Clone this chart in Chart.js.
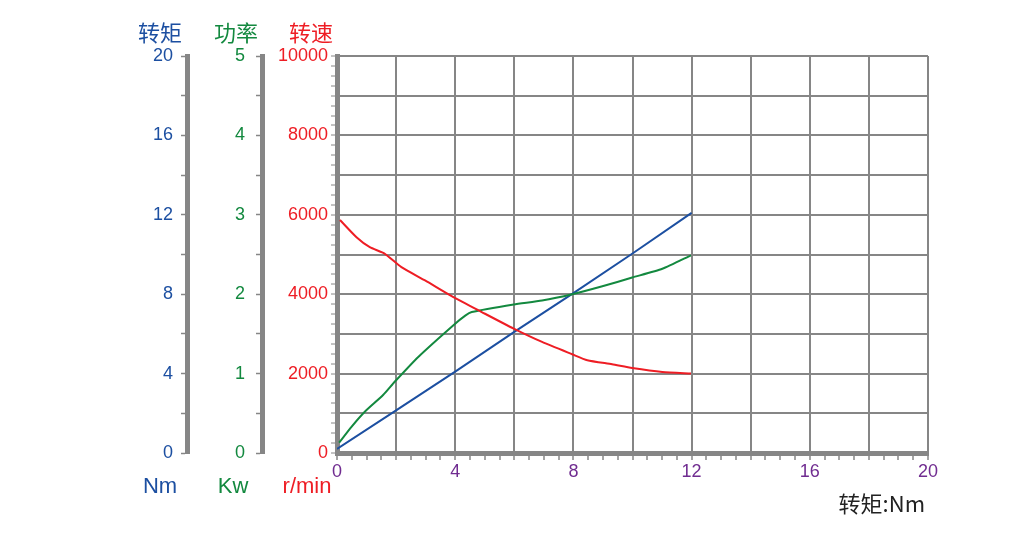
<!DOCTYPE html>
<html><head><meta charset="utf-8">
<script src="https://cdn.jsdelivr.net/npm/chart.js@4.4.1/dist/chart.umd.min.js"></script>
<style>html,body{margin:0;padding:0;background:#fff;}#wrap{width:1030px;height:533px;}</style>
</head><body><div id="wrap"><canvas id="c" width="1030" height="533"></canvas></div>
<script>
// ---- data ----
const speedX   = [0.1, 0.66, 1.11, 1.62, 2.18, 2.98, 3.94, 4.9, 5.98, 6.94, 7.96, 8.47, 9.31, 9.99, 11.01, 11.98];
const speedRpm = [5870, 5435, 5183, 5018, 4681, 4347, 3927, 3550, 3133, 2797, 2487, 2337, 2236, 2143, 2043, 2003];
const powerX   = [0.07, 0.49, 0.94, 1.56, 1.96, 2.75, 3.94, 4.34, 4.56, 5.98, 6.94, 7.96, 8.98, 9.99, 11.01, 11.98];
const powerKw  = [0.13, 0.33, 0.52, 0.73, 0.90, 1.21, 1.61, 1.73, 1.775, 1.87, 1.92, 2.00, 2.10, 2.21, 2.32, 2.49];
const torqueX  = [0, 2, 4, 6, 8, 10, 12];
const torqueNm = [0.2, 2.15, 4.1, 6.1, 8.05, 10.05, 12.1];
const xLabelTicks = [0, 4, 8, 12, 16, 20];
const torqueLabelTicks = [0, 4, 8, 12, 16, 20];
const powerLabelTicks = [0, 1, 2, 3, 4, 5];
const speedLabelTicks = [0, 2000, 4000, 6000, 8000, 10000];
const titles = ['转矩', '功率', '转速'];
const units = ['Nm', 'Kw', 'r/min'];
const xTitle = '转矩:Nm';

const gray = '#868686';
const red = '#ee1d24';
const green = '#13893f';
const blue = '#1c4fa1';
const purple = '#702c90';
const clear = 'rgba(0,0,0,0)';
const numFont = {family: "'Liberation Sans', Arial, sans-serif", size: 18};

const pts = (xs, ys) => xs.map((x, i) => ({x: x, y: ys[i]}));

const textPlugin = {
  id: 'texts',
  afterDraw(chart) {
    const c = chart.ctx;
    const t = chart.scales.yTorque, p = chart.scales.yPower, s = chart.scales.ySpeed, x = chart.scales.x;
    c.save();
    c.textAlign = 'center';
    c.textBaseline = 'middle';
    c.font = "22px 'Noto Sans CJK SC', sans-serif";
    const tops = [[t.right - 27, blue], [p.right - 26, green], [s.right - 26, red]];
    tops.forEach((o, i) => { c.fillStyle = o[1]; c.fillText(titles[i], o[0], 33); });
    c.font = "22px 'Liberation Sans', Arial, sans-serif";
    const bots = [[t.right - 27, blue], [p.right - 29, green], [s.right - 30, red]];
    bots.forEach((o, i) => { c.fillStyle = o[1]; c.fillText(units[i], o[0], 487); });
    c.textAlign = 'right';
    c.fillStyle = '#222';
    c.font = "22px 'Noto Sans CJK SC', sans-serif";
    c.fillText(xTitle, x.right - 3, 504);
    c.restore();
  }
};

new Chart(document.getElementById('c'), {
  type: 'line',
  data: {
    datasets: [
      {label: '转速', data: pts(speedX, speedRpm), yAxisID: 'ySpeed', borderColor: red, borderWidth: 2, pointRadius: 0, tension: 0.2},
      {label: '功率', data: pts(powerX, powerKw), yAxisID: 'yPower', borderColor: green, borderWidth: 2, pointRadius: 0, tension: 0.2},
      {label: '转矩', data: pts(torqueX, torqueNm), yAxisID: 'yTorque', borderColor: blue, borderWidth: 2, pointRadius: 0, tension: 0}
    ]
  },
  options: {
    responsive: false, animation: false, devicePixelRatio: 1,
    layout: {padding: {left: 100, right: 102, top: 56, bottom: 45}},
    plugins: {legend: {display: false}, tooltip: {enabled: false}},
    scales: {
      x: {
        type: 'linear', position: 'bottom', min: 0, max: 20,
        ticks: {stepSize: 0.5, autoSkip: false, maxRotation: 0, color: purple, font: numFont, padding: 1,
          callback: v => xLabelTicks.includes(v) ? String(v) : ''},
        grid: {color: c => (c.tick && c.tick.value % 2 === 0) ? gray : clear, lineWidth: 2, tickColor: gray, tickLength: 7, tickWidth: 1.5},
        border: {color: gray, width: 5},
        afterFit: s => { s.height = 35; }
      },
      ySpeed: {
        position: 'left', weight: 1, min: 0, max: 10000,
        ticks: {stepSize: 250, autoSkip: false, color: red, font: numFont, padding: 3,
          callback: v => speedLabelTicks.includes(v) ? String(v) : ''},
        grid: {color: c => (c.tick && c.tick.value % 1000 === 0) ? gray : clear, lineWidth: 2, tickColor: gray, tickLength: 6, tickWidth: 1},
        border: {color: gray, width: 5},
        afterFit: s => { s.width = 75; }
      },
      yPower: {
        position: 'left', weight: 2, min: 0, max: 5,
        ticks: {stepSize: 0.5, autoSkip: false, color: green, font: numFont, padding: 11,
          callback: v => powerLabelTicks.includes(v) ? String(v) : ''},
        grid: {drawOnChartArea: false, tickColor: gray, tickLength: 6, tickWidth: 1.5},
        border: {color: gray, width: 5},
        afterFit: s => { s.width = 75; }
      },
      yTorque: {
        position: 'left', weight: 3, min: 0, max: 20,
        ticks: {stepSize: 2, autoSkip: false, color: blue, font: numFont, padding: 8,
          callback: v => torqueLabelTicks.includes(v) ? String(v) : ''},
        grid: {drawOnChartArea: false, tickColor: gray, tickLength: 6, tickWidth: 1.5},
        border: {color: gray, width: 5},
        afterFit: s => { s.width = 87; }
      }
    }
  },
  plugins: [textPlugin]
});
</script>
</body></html>
